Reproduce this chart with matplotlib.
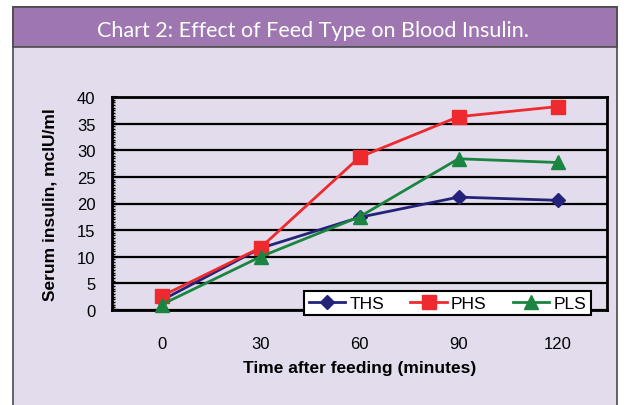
import numpy as np
import matplotlib
matplotlib.use('Agg')
import matplotlib.pyplot as plt
from matplotlib.patches import Rectangle
from matplotlib.ticker import MultipleLocator

# Data
times = ['0', '30', '60', '90', '120']
ths = [1.8, 11.6, 17.4, 21.2, 20.6]
phs = [2.6, 11.7, 28.7, 36.3, 38.2]
pls = [1.0, 10.0, 17.5, 28.4, 27.7]

series_names = ['THS', 'PHS', 'PLS']
series_colors = ['#232379', '#ee2a2e', '#1a8540']
series_markers = ['D', 's', '^']
series_msize = [7.5, 9.5, 9.5]

W, H = 624, 406
body_color = '#e3dcec'
band_color = '#9e77b0'
edge_color = '#4a4a4a'

plt.rcParams['font.family'] = ['Liberation Sans', 'DejaVu Sans']

fig = plt.figure(figsize=(W / 100, H / 100), dpi=100)
fig.patch.set_facecolor('white')

# outer frame + title band
fig.patches.append(Rectangle((12.5 / W, -0.02), (617 - 12.5) / W, 1.02 - 8 / H,
                             transform=fig.transFigure, facecolor=body_color,
                             edgecolor=edge_color, linewidth=1.2, zorder=-2))
fig.patches.append(Rectangle((12.5 / W, 1 - 48 / H), (617 - 12.5) / W, 40 / H,
                             transform=fig.transFigure, facecolor=band_color,
                             edgecolor=edge_color, linewidth=1.2, zorder=-1))
fig.text(313 / W, 1 - 31 / H, 'Chart 2: Effect of Feed Type on Blood Insulin.',
         color='white', fontsize=15.5, family=['Lato', 'DejaVu Sans'],
         ha='center', va='center')

ax = fig.add_axes([112 / W, 1 - 311 / H, (607 - 112) / W, (311 - 98) / H])
ax.set_facecolor('none')

x = np.arange(len(times))
for vals, name, col, mk, ms in zip([ths, phs, pls], series_names, series_colors,
                                   series_markers, series_msize):
    ax.plot(x, vals, color=col, lw=2.0, marker=mk, markersize=ms,
            markeredgecolor=col, label=name, zorder=3, clip_on=False)

ax.set_xlim(-0.5, len(times) - 0.5)
ax.set_ylim(0, 40)
ax.set_xticks(x)
ax.set_xticklabels(times)
ax.yaxis.set_major_locator(MultipleLocator(5))
ax.yaxis.set_minor_locator(MultipleLocator(0.5))
ax.grid(axis='y', color='black', lw=1.6, zorder=1)
ax.set_axisbelow(True)

for s in ax.spines.values():
    s.set_linewidth(2)
    s.set_color('black')

ax.tick_params(axis='x', length=0, pad=19, labelsize=12)
ax.tick_params(axis='y', which='major', direction='in', length=4, width=1.5,
               pad=12, labelsize=12)
ax.tick_params(axis='y', which='minor', direction='in', length=2.5, width=1)

ax.set_xlabel('Time after feeding (minutes)', fontsize=12.5, fontweight='bold',
              labelpad=6)
ax.set_ylabel('Serum insulin, mcIU/ml', fontsize=12.5, fontweight='bold',
              labelpad=14)

leg = ax.legend(loc='center', bbox_to_anchor=((303 + 592) / 2 / W, 1 - 304 / H),
                bbox_transform=fig.transFigure, ncol=3, fontsize=12.5,
                frameon=True, fancybox=False, framealpha=1, edgecolor='black',
                borderpad=0.25, handlelength=2.1, handletextpad=0.25,
                columnspacing=1.5, borderaxespad=0)
leg.get_frame().set_linewidth(1.5)
leg.set_zorder(5)

fig.savefig('out.png', dpi=100)
